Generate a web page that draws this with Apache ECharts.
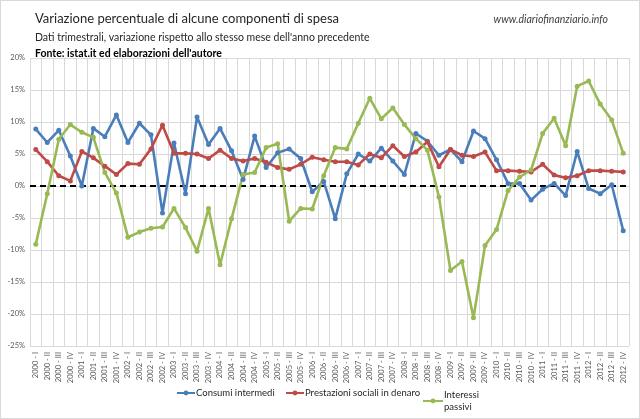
<!DOCTYPE html>
<html><head><meta charset="utf-8">
<script src="https://cdn.jsdelivr.net/npm/echarts@6/dist/echarts.min.js"></script>
<style>html,body{margin:0;padding:0;background:#fff}#c{width:638px;height:417px;border:1px solid #d9d9d9;}</style>
</head><body><div id="c"></div>
<script>
const years = ['2000','2001','2002','2003','2004','2005','2006','2007','2008','2009','2010','2011','2012'];
const quarters = ['I','II','III','IV'];
const categories = [];
years.forEach(y => quarters.forEach(q => categories.push(y + ' - ' + q)));

const consumiIntermedi = [8.9,6.8,8.7,4.7,0.0,9.0,7.7,11.1,6.8,9.8,8.0,-4.2,6.7,-1.2,10.8,6.5,9.0,5.5,1.0,7.8,2.9,5.2,5.8,4.3,-0.9,0.7,-5.1,1.9,5.0,3.9,5.9,3.9,1.8,8.2,7.0,4.8,5.7,3.8,8.6,7.4,4.1,0.4,0.4,-2.2,-0.5,0.4,-1.5,5.4,-0.4,-1.2,0.2,-7.0];
const prestazioniSociali = [5.7,3.8,1.6,0.8,5.4,4.4,3.1,1.8,3.5,3.4,5.8,9.5,5.1,5.1,5.0,4.3,5.6,4.3,3.9,4.3,3.7,2.9,2.6,3.4,4.5,4.1,3.8,3.8,3.3,5.0,4.4,6.3,4.6,5.3,6.9,3.0,5.7,4.8,4.6,5.3,2.4,2.4,2.3,2.2,3.4,1.7,1.3,1.6,2.4,2.4,2.3,2.2];
const interessiPassivi = [-9.1,-1.2,7.3,9.6,8.4,7.6,2.1,-1.1,-8.0,-7.2,-6.6,-6.4,-3.5,-6.5,-10.2,-3.5,-12.3,-5.1,1.8,2.1,6.0,6.6,-5.5,-3.5,-3.6,1.6,6.0,5.8,9.8,13.7,10.5,12.2,9.6,7.4,5.6,-1.7,-13.2,-11.8,-20.6,-9.3,-6.8,-0.7,1.4,2.5,8.2,10.6,6.3,15.6,16.4,12.8,10.3,5.1];

const seriesNames = ['Consumi intermedi','Prestazioni sociali in denaro','Interessi\npassivi'];
const colors = ['#4a7ebb','#be4b48','#98b954'];
const FONT = 'Lato';

const chart = echarts.init(document.getElementById('c'), null, {renderer:'canvas'});
function mk(name, data, color, extra) {
  return Object.assign({
    name, type:'line', data, color, symbol:'circle', symbolSize:5,
    lineStyle:{width:2.6, color}, itemStyle:{color}, z:3
  }, extra||{});
}
const legendText = {fontFamily:FONT,fontSize:9.5,color:'#262626', padding:[0,0,0,-4], lineHeight:12};
chart.setOption({
  animation:false,
  textStyle:{fontFamily:FONT},
  title:[
    {text:'Variazione percentuale di alcune componenti di spesa', left:29, top:6, textStyle:{fontFamily:FONT,fontSize:13,fontWeight:'normal',color:'#262626'}},
    {text:"Dati trimestrali, variazione rispetto allo stesso mese dell'anno precedente", left:29, top:26, textStyle:{fontFamily:FONT,fontSize:10.5,fontWeight:'normal',color:'#262626'}},
    {text:"Fonte: istat.it ed elaborazioni dell'autore", left:29, top:42, textStyle:{fontFamily:FONT,fontSize:10.5,fontWeight:'bold',color:'#000'}},
    {text:'www.diariofinanziario.info', right:26, top:8, textStyle:{fontFamily:FONT,fontSize:10.5,fontWeight:'normal',fontStyle:'italic',color:'#404040'}}
  ],
  grid:{left:29, right:10, top:57, bottom:72, containLabel:false},
  legend:[
    {left:170, top:381, itemWidth:18, itemHeight:6, data:[seriesNames[0]], textStyle:legendText},
    {left:279, top:381, itemWidth:18, itemHeight:6, data:[seriesNames[1]], textStyle:legendText},
    {left:416, top:377, itemWidth:20, itemHeight:6, data:[{name:seriesNames[2], textStyle:Object.assign({}, legendText, {padding:[12,0,0,-4]})}], textStyle:legendText}
  ],
  xAxis:{
    type:'category', data:categories, boundaryGap:true,
    axisLine:{show:true, lineStyle:{color:'#d9d9d9'}},
    axisTick:{show:false},
    splitLine:{show:true, interval:0, lineStyle:{color:'#d9d9d9', width:1}},
    axisLabel:{interval:0, rotate:90, fontSize:7.5, color:'#595959', margin:6, fontFamily:FONT}
  },
  yAxis:{
    type:'value', min:-25, max:20, interval:5,
    axisLine:{show:false}, axisTick:{show:false},
    splitLine:{show:true, lineStyle:{color:'#d9d9d9', width:1}},
    axisLabel:{formatter:v=>v+'%', fontSize:7.5, color:'#595959', margin:5, fontFamily:FONT}
  },
  series:[
    mk(seriesNames[0], consumiIntermedi, colors[0], {
      markLine:{silent:true, symbol:'none', label:{show:false},
        lineStyle:{color:'#000', width:2, type:[6,4]}, data:[{yAxis:0}], z:2}
    }),
    mk(seriesNames[1], prestazioniSociali, colors[1]),
    mk(seriesNames[2], interessiPassivi, colors[2])
  ]
});
</script></body></html>
